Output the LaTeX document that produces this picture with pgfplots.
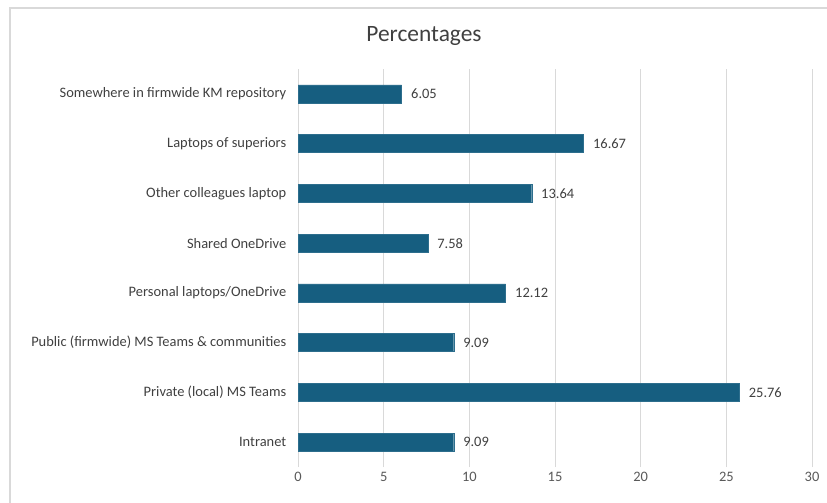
\documentclass[border=0pt]{standalone}
\usepackage{fontspec}
\setmainfont{Carlito}
\usepackage{pgfplots}
\pgfplotsset{compat=1.18}
\definecolor{barblue}{HTML}{165E80}
\definecolor{labelgray}{HTML}{404040}
\definecolor{tickgray}{HTML}{595959}
\definecolor{gridgray}{HTML}{D9D9D9}
\begin{document}
\begin{tikzpicture}
\useasboundingbox (0,0) rectangle (827bp,503bp);
% chart area frame
\draw[gridgray, line width=1.2bp] (10bp,0bp) -- (10bp,495bp) -- (827bp,495bp);
\node[font=\fontsize{23.5}{28}\selectfont, text=labelgray] at (424bp,467bp) {Percentages};
\begin{axis}[
  at={(298bp,36bp)}, anchor=south west,
  scale only axis, width=514bp, height=398bp,
  xbar, bar width=18bp,
  xmin=0, xmax=30, ymin=-0.5, ymax=7.5,
  xtick={0,5,...,30}, ytick={0,...,7},
  yticklabels={Intranet, Private (local) MS Teams, Public (firmwide) MS Teams \& communities, Personal laptops/OneDrive, Shared OneDrive, Other colleagues laptop, Laptops of superiors, Somewhere in firmwide KM repository},
  axis line style={draw=none}, major tick style={draw=none},
  xmajorgrids, grid style={gridgray, line width=1bp},
  ticklabel style={font=\fontsize{14.5}{17}\selectfont},
  xticklabel style={text=tickgray, yshift=-2bp},
  yticklabel style={text=labelgray, xshift=-4bp},
  /pgf/number format/assume math mode=true,
  point meta=x,
  nodes near coords={\pgfmathprintnumber[fixed, fixed zerofill, precision=2]{\pgfplotspointmeta}},
  nodes near coords style={font=\fontsize{14.5}{17}\selectfont, text=labelgray, anchor=west, xshift=6bp},
]
\addplot[fill=barblue, draw=barblue!90!white] coordinates {
  (9.09,0) (25.76,1) (9.09,2) (12.12,3) (7.58,4) (13.64,5) (16.67,6) (6.05,7)
};
\end{axis}
\end{tikzpicture}
\end{document}
